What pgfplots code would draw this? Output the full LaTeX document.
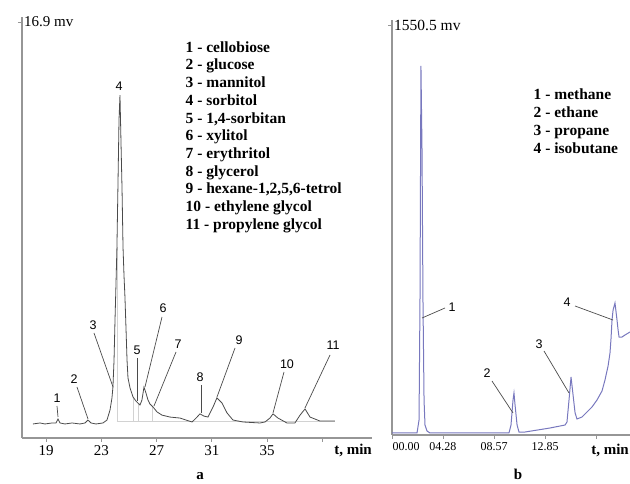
\documentclass[border=0pt]{standalone}
\usepackage{fontspec}
\setmainfont{Liberation Serif}
\newfontfamily\arial{Liberation Sans}
\usepackage{pgfplots}
\pgfplotsset{compat=1.18}

\definecolor{axisgray}{RGB}{150,150,150}
\definecolor{tracegray}{RGB}{75,75,75}
\definecolor{traceblue}{RGB}{120,120,190}
\definecolor{dropgray}{RGB}{210,210,210}

\newcommand{\legfont}{\fontsize{15.5}{17}\selectfont\bfseries}
\newcommand{\pkfont}{\arial\fontsize{12.5}{14}\selectfont}

\pgfplotsset{
  chrom/.style={
    scale only axis, anchor=south west,
    axis x line=bottom, axis y line=left,
    axis line style={-, axisgray, line width=1.6pt},
    tick align=outside,
    tick style={axisgray, line width=0.8pt},
    major tick length=4pt,
    /pgf/number format/assume math mode=true,
    yticklabel style={anchor=west, xshift=5pt, inner sep=1pt},
  }
}

\begin{document}
\begin{tikzpicture}
\useasboundingbox (0,0) rectangle (630pt,484pt);

% ---- a: sugar alcohols ----
\begin{axis}[chrom,
  at={(22pt,46pt)}, width=350pt, height=421pt,
  xmin=17.255, xmax=42.6, ymin=0, ymax=17.1,
  xtick={19,23,27,31,35,39}, xticklabels={19,23,27,31,35,},
  ytick={16.9}, yticklabels={16.9 mv},
  ticklabel style={font=\fontsize{15}{17}\selectfont},
]
  \addplot[dropgray, line width=0.8pt, forget plot] coordinates {(24.13,0.69) (39.92,0.69)};
  \addplot[dropgray, line width=0.8pt, forget plot] coordinates {(24.13,0.69) (24.13,7.76)};
  \addplot[dropgray, line width=0.8pt, forget plot] coordinates {(25.29,0.69) (25.29,1.67)};
  \addplot[dropgray, line width=0.8pt, forget plot] coordinates {(25.72,0.69) (25.72,1.38)};
  \addplot[dropgray, line width=0.8pt, forget plot] coordinates {(26.67,0.69) (26.67,1.30)};

  \addplot[tracegray, line width=0.8pt] coordinates {
    (18.05,0.57) (18.56,0.61) (18.92,0.57) (19.43,0.61) (19.72,0.61)
    (19.86,0.77) (20.01,0.61) (20.37,0.57) (20.88,0.61) (21.45,0.57)
    (21.82,0.61) (22.03,0.73) (22.25,0.61) (22.61,0.57) (23.12,0.61)
    (23.41,0.73) (23.63,1.14) (23.77,1.63) (23.84,2.07) (23.92,3.17)
    (23.99,4.79) (24.06,6.22) (24.13,7.76) (24.21,10.48) (24.28,12.92)
    (24.35,13.93) (24.42,12.11) (24.50,10.08) (24.57,7.76) (24.64,6.62)
    (24.71,5.73) (24.79,4.39) (24.86,3.17) (24.93,2.44) (25.08,2.03)
    (25.29,1.67) (25.51,1.50) (25.65,1.42) (25.80,1.34) (25.94,1.54)
    (26.09,2.07) (26.23,1.83) (26.38,1.54) (26.52,1.38) (26.74,1.26)
    (27.03,1.06) (27.39,0.93) (27.97,0.85) (28.70,0.81) (29.13,0.73)
    (29.57,0.65) (29.93,0.85) (30.14,0.98) (30.43,0.89) (30.72,0.85)
    (31.09,1.26) (31.37,1.63) (31.74,1.42) (32.10,1.02) (32.53,0.73)
    (33.26,0.65) (34.49,0.61) (34.85,0.65) (35.21,0.81) (35.43,0.98)
    (35.79,0.81) (36.44,0.61) (37.02,0.61) (37.39,0.93) (37.75,1.18)
    (38.11,0.85) (38.47,0.77) (38.83,0.69) (39.92,0.69)
  };
\end{axis}

% ---- b: hydrocarbon gases ----
\begin{axis}[chrom,
  at={(392pt,49pt)}, width=238pt, height=415pt,
  xmin=0, xmax=19.98, ymin=0, ymax=1569.5,
  xtick={4.28,8.57,12.85,17.13}, xticklabels={04.28,08.57,12.85,},
  extra x ticks={0}, extra x tick labels={00.00},
  extra x tick style={xticklabel style={anchor=north west, xshift=-3pt}},
  minor x tick num=9, minor tick length=2pt,
  ytick={1550.5}, yticklabels={1550.5 mv},
  xticklabel style={font=\fontsize{12}{14}\selectfont},
  yticklabel style={font=\fontsize{15.5}{17}\selectfont},
]
  \addplot[traceblue, line width=1pt] coordinates {
    (0,7.6) (2.10,7.6) (2.27,56.7) (2.35,510.6) (2.43,1395.6) (2.52,1077.9)
    (2.60,510.6) (2.69,132.4) (2.77,37.8) (2.94,15.1) (3.19,7.6)
    (9.82,7.6) (9.99,37.8) (10.16,132.4) (10.24,158.8) (10.33,113.5)
    (10.50,37.8) (10.66,11.3) (11.17,11.3) (13.27,26.5) (14.53,37.8)
    (14.69,49.2) (14.86,132.4) (15.03,219.4) (15.20,151.3) (15.37,83.2)
    (15.53,60.5) (15.95,68.1) (16.37,87.0) (16.79,105.9) (17.21,132.4)
    (17.63,166.4) (17.88,208.0) (18.14,261.0) (18.30,310.1) (18.39,366.9)
    (18.47,434.9) (18.56,472.8) (18.72,499.2) (18.89,434.9) (18.98,397.1)
    (19.06,370.6) (19.31,370.6) (19.56,378.2) (19.98,389.5)
  };
\end{axis}

% ---- annotations, in picture pixels (y downwards) ----
\begin{scope}[x=1pt, y=-1pt, yshift=484pt]
  \foreach \s [count=\i from 0] in {{1 - cellobiose}, {2 - glucose}, {3 - mannitol},
      {4 - sorbitol}, {5 - 1,4-sorbitan}, {6 - xylitol}, {7 - erythritol},
      {8 - glycerol}, {9 - hexane-1,2,5,6-tetrol}, {10 - ethylene glycol},
      {11 - propylene glycol}}
    \node[anchor=base west, inner sep=0, font=\legfont] at (185.5, {52.3+\i*17.7}) {\s};
  \foreach \s [count=\i from 0] in {{1 - methane}, {2 - ethane}, {3 - propane}, {4 - isobutane}}
    \node[anchor=base west, inner sep=0, font=\legfont] at (533.5, {100+\i*17.7}) {\s};

  \begin{scope}[tracegray, line width=0.7pt]
    \draw (57,406) -- (58,417);
    \draw (77,387) -- (88,419);
    \draw (94,333) -- (113,387);
    \draw (137,358) -- (137,401);
    \draw (162,317) -- (145,387);
    \draw (176,352) -- (154,406);
    \draw (201,385) -- (201,413);
    \draw (235,348) -- (217,397);
    \draw (284,372) -- (273,413);
    \draw (330,355) -- (305,408);
    \draw (445,308) -- (422,318);
    \draw (492,381) -- (513,413);
    \draw (544,351) -- (569,393);
    \draw (575,306) -- (613,320);
  \end{scope}
  \foreach \x/\y/\t in {57/398/1, 74/379/2, 93/325/3, 119/86/4, 137/350/5,
      163/308/6, 178/344/7, 200/377/8, 239/340/9, 287/364/10, 333/345/11,
      452/307/1, 487/373/2, 539/344/3, 567/302/4}
    \node[font=\pkfont, inner sep=0] at (\x,\y) {\t};

  \node[anchor=base east, inner sep=0, font=\fontsize{15}{17}\selectfont\bfseries] at (372,455) {t, min};
  \node[anchor=base east, inner sep=0, font=\fontsize{15}{17}\selectfont\bfseries] at (629,455) {t, min};
  \node[anchor=base, inner sep=0, font=\fontsize{15}{17}\selectfont\bfseries] at (200,480) {a};
  \node[anchor=base, inner sep=0, font=\fontsize{15}{17}\selectfont\bfseries] at (518,480) {b};
\end{scope}
\end{tikzpicture}
\end{document}
